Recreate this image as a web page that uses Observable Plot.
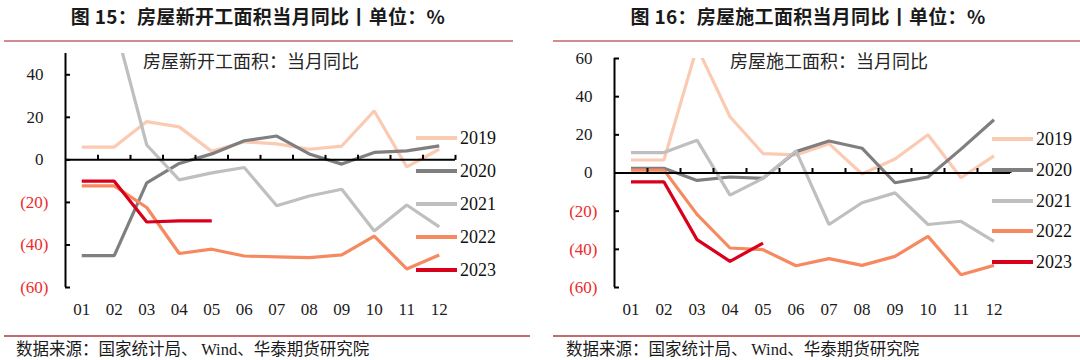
<!DOCTYPE html>
<html><head><meta charset="utf-8">
<script src="https://cdn.jsdelivr.net/npm/d3@7"></script>
<script src="https://cdn.jsdelivr.net/npm/@observablehq/plot@0.6"></script>
<style>
body{margin:0;width:1080px;height:360px;position:relative;background:#fff;overflow:hidden;font-family:"Noto Sans CJK SC","Noto Sans",sans-serif;}
.abs{position:absolute;white-space:nowrap;}
.title{font-weight:bold;font-size:19px;color:#1a1a1a;line-height:22px;transform:translateX(-50%);letter-spacing:0.3px;}
.hline{height:2px;background:#d58b8d;}
.fline{height:2px;background:#c46c6c;}
.inner{font-size:18px;color:#262626;line-height:20px;}
.foot{font-size:16.5px;color:#1a1a1a;line-height:20px;}
.serif{font-family:"Liberation Serif",serif;}
.legline{height:4px;}
.legtext{font-family:"Liberation Serif",serif;font-size:18px;color:#111;line-height:20px;}
svg{position:absolute;top:0;}
</style></head>
<body>
<script>
// ---- data ----
const months = ["01","02","03","04","05","06","07","08","09","10","11","12"];
const years = ["2019","2020","2021","2022","2023"];
const colors = ["#fbcab3","#7f7f7f","#bfbfbf","#f6895f","#d9001b"];

const newStart2019 = [6, 6, 18, 15.5, 4, 8.5, 7.5, 5, 6.5, 23, -3.3, 5];
const newStart2020 = [-45, -45, -10.8, -1.7, 2.8, 9, 11.2, 2.8, -2, 3.5, 4.2, 6.6];
const newStart2021 = [64.9, 64.9, 7, -9.4, -6.1, -3.6, -21.6, -17, -13.8, -33.4, -21.2, -31.5];
const newStart2022 = [-12.2, -12.2, -22.4, -44, -42, -45.2, -45.6, -46, -44.7, -35.8, -51.3, -44.7];
const newStart2023 = [-10, -10, -29.2, -28.7, -28.7];

const constr2019 = [6.8, 6.8, 66, 29.5, 10.2, 9.5, 15.4, -0.5, 7.3, 20, -2.5, 9];
const constr2020 = [2.5, 2.5, -3.9, -2.1, -2.8, 11.2, 16.8, 13, -5.1, -2.1, 12.5, 27.9];
const constr2021 = [10.7, 10.7, 17.2, -11.6, -2.8, 11.6, -27, -15.6, -10.4, -27, -25.3, -35.8];
const constr2022 = [1.5, 1.5, -21.7, -39.3, -40.2, -48.6, -44.9, -48.4, -43.7, -33.2, -53.3, -48.4];
const constr2023 = [-4.7, -4.7, -34.9, -46.3, -36.7];

const ticksLeft = [-60, -40, -20, 0, 20, 40];
const ticksRight = [-60, -40, -20, 0, 20, 40, 60];

const texts = {
  title1: "图 15：房屋新开工面积当月同比丨单位：%",
  title2: "图 16：房屋施工面积当月同比丨单位：%",
  inner1: "房屋新开工面积：当月同比",
  inner2: "房屋施工面积：当月同比",
  source: ["数据来源：国家统计局、 ", "Wind", "、华泰期货研究院"]
};

// ---- drawing ----
function div(cls, style, html) {
  const d = document.createElement("div");
  d.className = "abs " + cls;
  Object.assign(d.style, style);
  if (html != null) d.innerHTML = html;
  document.body.appendChild(d);
  return d;
}

const TL = 5;
const tickUp = {draw(ctx) { ctx.moveTo(0, 0); ctx.lineTo(0, -TL); }};

function chart(seriesList, yDomain, yTicks, m) {
  const monthNums = months.map((_, i) => i + 1);
  const bounds = monthNums.map(n => n + 0.5);
  const pos = yTicks.filter(t => t >= 0);
  const neg = yTicks.filter(t => t < 0);
  const lines = seriesList.map((vals, k) =>
    Plot.lineY(vals.map((v, i) => ({m: i + 1, v})), {
      x: "m", y: "v", stroke: colors[k], strokeWidth: 3.2, clip: true,
      strokeLinejoin: "miter", strokeLinecap: "butt"
    }));
  return Plot.plot({
    width: 540, height: 360,
    marginLeft: m.left, marginRight: m.right, marginTop: m.top, marginBottom: m.bottom,
    x: {domain: [0.5, 12.5], axis: null},
    y: {domain: yDomain, axis: null},
    style: {fontFamily: "Liberation Serif, serif", fontSize: "17px", background: "transparent", overflow: "visible"},
    marks: [
      ...lines,
      Plot.ruleX([0.5], {stroke: "#000", strokeWidth: 2}),
      Plot.axisY(yTicks, {tickSize: TL, dx: TL, tickFormat: () => "", stroke: "#000", strokeWidth: 2, label: null}),
      Plot.axisY(pos, {tickSize: 0, tickPadding: 22, fontSize: 17, color: "#1a1a1a", tickFormat: d => `${d}`, label: null}),
      Plot.axisY(neg, {tickSize: 0, tickPadding: 17, fontSize: 17, color: "#ee2b2b", tickFormat: d => `(${-d})`, label: null}),
      Plot.ruleY([0], {stroke: "#000", strokeWidth: 2}),
      Plot.dot(bounds, {x: d => d, y: 0, symbol: tickUp, stroke: "#000", strokeWidth: 2, fill: "none"}),
      Plot.axisX(monthNums, {tickSize: 0, tickPadding: 15, fontSize: 17, color: "#1a1a1a", tickFormat: d => months[d - 1], label: null})
    ]
  });
}

const c1 = chart([newStart2019, newStart2020, newStart2021, newStart2022, newStart2023],
  [-60, 50], ticksLeft, {left: 65, right: 85, top: 53, bottom: 73});
c1.style.left = "0px";
document.body.appendChild(c1);

const c2 = chart([constr2019, constr2020, constr2021, constr2022, constr2023],
  [-60, 60], ticksRight, {left: 74, right: 70, top: 58, bottom: 73});
c2.style.left = "540px";
document.body.appendChild(c2);

div("title", {left: "258px", top: "5px"}, texts.title1);
div("title", {left: "808px", top: "5px"}, texts.title2);
div("hline", {left: "4px", top: "40px", width: "509px"});
div("hline", {left: "553px", top: "40px", width: "527px"});
div("fline", {left: "4px", top: "335px", width: "526px"});
div("fline", {left: "553px", top: "335px", width: "527px"});
div("inner", {left: "143px", top: "50px"}, texts.inner1);
div("inner", {left: "730px", top: "50px"}, texts.inner2);
const src = `${texts.source[0]}<span class="serif">${texts.source[1]}</span>${texts.source[2]}`;
div("foot", {left: "16px", top: "338px"}, src);
div("foot", {left: "566px", top: "338px"}, src);

function legend(x0, y0, step) {
  years.forEach((y, k) => {
    const cy = y0 + k * step;
    div("legline", {left: x0 + "px", top: (cy - 2) + "px", width: "41px", background: colors[k]});
    div("legtext", {left: (x0 + 44) + "px", top: (cy - 10) + "px"}, y);
  });
}
legend(416, 138, 33);
legend(992, 139, 30.8);
</script>
</body></html>
